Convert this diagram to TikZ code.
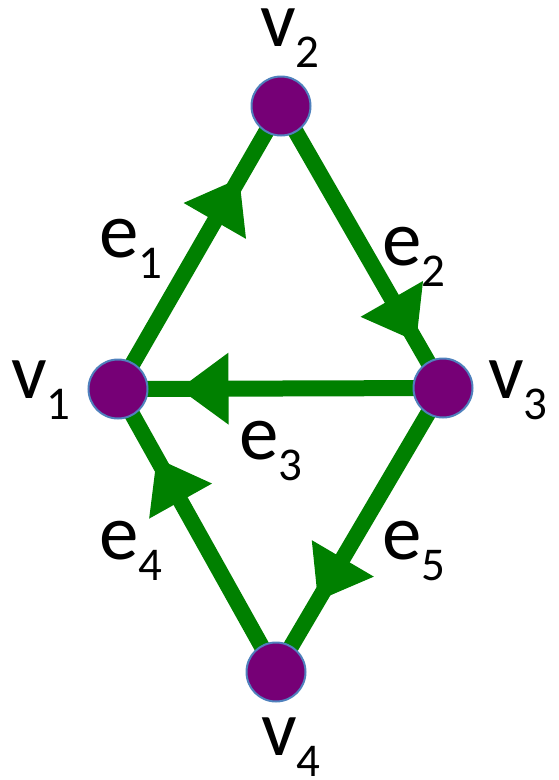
\documentclass[tikz,border=0pt]{standalone}
\usepackage{fontspec}
\setmainfont{Carlito}
\usetikzlibrary{decorations.markings,backgrounds}
\definecolor{edgegreen}{RGB}{0,128,0}
\definecolor{vpurple}{RGB}{118,0,118}
\definecolor{vblue}{RGB}{79,129,189}
\newcommand{\glabel}[2]{#1\raisebox{-21pt}{\fontsize{47}{47}\selectfont #2}}

\begin{document}
\begin{tikzpicture}[x=1pt,y=-1pt,
  vertex/.style={circle,fill=vpurple,draw=vblue,line width=2pt,minimum size=59pt,inner sep=0pt},
  flow/.style={draw=edgegreen,line width=16pt,postaction={decorate},
    decoration={markings,mark=at position #1 with {\fill[edgegreen] (0,-36pt) -- (49pt,0) -- (0,36pt) -- cycle;}}},
  lbl/.style={anchor=base west,inner sep=0pt,text height=38pt,font=\fontsize{79}{79}\selectfont}]
\useasboundingbox (0,0) rectangle (559,780);

% vertices
\node[vertex] (v1) at (118,389) {};
\node[vertex] (v2) at (281,106) {};
\node[vertex] (v3) at (443,388) {};
\node[vertex] (v4) at (276,672) {};

% edges
\begin{scope}[on background layer]
\draw[flow=0.594] (v1.center) -- (v2.center);
\draw[flow=0.684] (v2.center) -- (v3.center);
\draw[flow=0.66] (v3.center) -- (v1.center);
\draw[flow=0.604] (v4.center) -- (v1.center);
\draw[flow=0.6] (v3.center) -- (v4.center);
\end{scope}

% labels
\node[lbl] (lv1) at (11,398) {\glabel{v}{1}};
\node[lbl] (lv2) at (260,46) {\glabel{v}{2}};
\node[lbl] (lv3) at (488,398) {\glabel{v}{3}};
\node[lbl] (lv4) at (261,755) {\glabel{v}{4}};
\node[lbl] (le1) at (99,257) {\glabel{e}{1}};
\node[lbl] (le2) at (382,265) {\glabel{e}{2}};
\node[lbl] (le3) at (239,459) {\glabel{e}{3}};
\node[lbl] (le4) at (99,559) {\glabel{e}{4}};
\node[lbl] (le5) at (382,559) {\glabel{e}{5}};
\end{tikzpicture}
\end{document}
